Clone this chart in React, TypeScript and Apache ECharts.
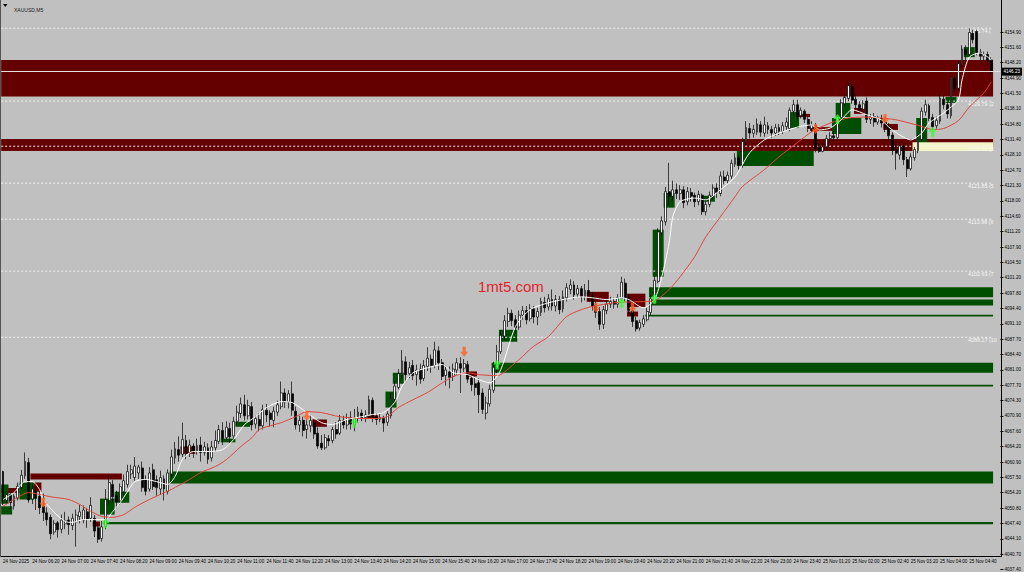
import React, { useEffect, useRef } from "react";
import * as echarts from "echarts";

const FONT = "'Liberation Sans', Arial, sans-serif";
const symbolName = "XAUUSD,M5";
const watermark = "1mt5.com";
const currentPrice = 4146.23;

// x tick labels (one every 8 bars)
const tickLabels = [
  "24 Nov 2025", "24 Nov 06:20", "24 Nov 07:00", "24 Nov 07:40", "24 Nov 08:20", "24 Nov 09:00",
  "24 Nov 09:40", "24 Nov 10:20", "24 Nov 11:00", "24 Nov 11:40", "24 Nov 12:20", "24 Nov 13:00",
  "24 Nov 13:40", "24 Nov 14:20", "24 Nov 15:00", "24 Nov 15:40", "24 Nov 16:20", "24 Nov 17:00",
  "24 Nov 17:40", "24 Nov 18:20", "24 Nov 19:00", "24 Nov 19:40", "24 Nov 20:20", "24 Nov 21:00",
  "24 Nov 21:40", "24 Nov 22:20", "24 Nov 23:00", "24 Nov 23:40", "25 Nov 01:20", "25 Nov 02:00",
  "25 Nov 02:40", "25 Nov 03:20", "25 Nov 04:00", "25 Nov 04:40",
];

// right price scale labels, bottom -> top
const priceLabels = [
  "4037.40", "4040.70", "4044.10", "4047.40", "4050.80", "4054.20", "4057.50", "4060.90", "4064.20",
  "4067.60", "4070.90", "4074.30", "4077.70", "4081.00", "4084.40", "4087.70", "4091.10", "4094.40",
  "4097.80", "4101.20", "4104.50", "4107.90", "4111.20", "4114.60", "4118.00", "4121.30", "4124.70",
  "4128.10", "4131.40", "4134.80", "4138.10", "4141.50", "4144.90", "4148.20", "4151.60", "4154.90",
];
const priceMin = 4037.4;
const priceMax = 4154.9;

// [open, close, low, high]
const candles = [
  [4058.8,4052.7,4051.5,4059.0],[4052.5,4053.8,4051.8,4054.6],[4053.8,4052.0,4050.6,4054.5],[4051.3,4053.4,4050.5,4054.0],
  [4053.0,4055.6,4052.5,4056.4],[4055.3,4058.0,4054.8,4059.2],[4057.9,4061.0,4057.2,4063.0],[4060.8,4052.6,4052.0,4061.8],
  [4052.8,4055.0,4051.7,4056.0],[4054.5,4052.9,4050.4,4055.5],[4053.4,4050.9,4049.5,4054.5],[4051.2,4049.8,4048.0,4054.0],
  [4049.8,4048.3,4047.0,4051.0],[4048.8,4045.2,4044.0,4049.4],[4045.6,4047.5,4045.0,4048.2],[4047.6,4046.1,4044.4,4048.0],
  [4046.2,4048.2,4045.3,4049.4],[4047.4,4048.0,4046.2,4050.0],[4048.2,4047.2,4045.0,4049.0],[4047.0,4048.6,4046.0,4049.6],
  [4047.8,4049.3,4042.4,4050.5],[4049.0,4050.0,4047.5,4051.5],[4048.2,4050.4,4047.5,4051.4],[4050.0,4048.4,4046.5,4050.9],
  [4048.6,4051.4,4047.8,4053.2],[4048.6,4045.8,4044.5,4049.3],[4046.5,4044.0,4043.2,4047.4],[4044.2,4046.7,4043.5,4048.0],
  [4046.8,4052.7,4046.2,4055.0],[4052.5,4056.4,4051.6,4058.0],[4056.0,4053.3,4052.0,4057.0],[4053.5,4052.2,4050.8,4054.6],
  [4052.4,4055.5,4051.6,4056.2],[4054.4,4056.8,4053.8,4058.2],[4056.0,4058.8,4055.3,4060.3],[4058.3,4059.2,4057.2,4060.3],
  [4057.5,4060.0,4056.8,4062.0],[4058.5,4059.8,4057.2,4060.3],[4059.6,4055.3,4054.4,4061.0],[4057.1,4054.5,4053.6,4058.0],
  [4055.0,4058.5,4054.4,4059.8],[4059.2,4055.5,4054.8,4060.5],[4057.0,4055.3,4053.5,4058.0],[4055.0,4057.5,4053.7,4059.0],
  [4057.2,4055.0,4052.5,4058.0],[4054.5,4058.5,4053.8,4059.3],[4058.3,4062.0,4057.5,4063.6],[4061.8,4063.8,4060.5,4065.3],
  [4063.6,4062.4,4061.0,4066.5],[4062.6,4065.8,4062.0,4069.5],[4065.6,4062.8,4061.5,4066.8],[4063.0,4064.6,4062.0,4065.8],
  [4064.4,4063.2,4061.8,4065.0],[4063.2,4064.5,4062.5,4066.0],[4064.6,4063.0,4061.0,4066.4],[4063.0,4064.2,4062.3,4065.3],
  [4064.0,4061.5,4060.5,4065.0],[4061.8,4064.2,4061.0,4065.5],[4064.0,4065.6,4063.2,4067.8],[4065.4,4068.0,4064.8,4069.0],
  [4067.8,4066.0,4064.6,4069.6],[4066.2,4068.5,4065.6,4069.8],[4068.2,4066.4,4065.0,4069.5],[4066.6,4069.8,4066.0,4070.8],
  [4069.8,4071.8,4068.9,4073.2],[4071.5,4073.6,4070.5,4075.0],[4073.4,4071.0,4070.0,4075.6],[4071.0,4073.2,4070.2,4074.5],
  [4073.0,4069.0,4067.8,4074.0],[4069.2,4070.4,4068.2,4071.0],[4070.2,4068.8,4067.6,4071.6],[4068.8,4072.4,4068.0,4073.4],
  [4072.2,4071.2,4069.6,4073.6],[4071.6,4070.2,4068.6,4072.2],[4070.0,4072.0,4068.5,4073.0],[4071.8,4073.4,4071.0,4074.3],
  [4073.0,4076.0,4072.4,4078.5],[4076.0,4074.0,4072.7,4077.0],[4074.0,4075.8,4072.6,4076.6],[4075.8,4072.2,4071.0,4078.5],
  [4072.0,4069.0,4068.0,4073.0],[4069.0,4070.0,4067.5,4071.0],[4070.0,4067.8,4066.5,4070.8],[4068.0,4069.0,4066.0,4070.2],
  [4068.8,4070.0,4067.4,4071.2],[4069.5,4067.0,4066.0,4070.2],[4067.2,4064.4,4063.8,4068.5],[4065.0,4064.0,4063.5,4066.8],
  [4064.0,4066.2,4063.6,4067.0],[4066.0,4065.5,4064.4,4066.8],[4065.6,4068.0,4065.0,4068.6],[4068.0,4067.0,4066.0,4069.6],
  [4067.2,4070.0,4066.8,4071.2],[4070.0,4069.0,4068.2,4071.0],[4069.0,4070.6,4068.0,4071.5],[4070.6,4069.2,4068.0,4072.0],
  [4069.0,4070.6,4067.6,4072.5],[4070.4,4071.8,4069.5,4073.0],[4071.6,4070.6,4069.8,4072.4],[4070.6,4071.2,4069.6,4072.2],
  [4071.0,4074.5,4070.6,4075.4],[4074.4,4070.8,4069.6,4075.0],[4070.8,4070.2,4069.0,4071.6],[4070.2,4070.6,4069.6,4071.4],
  [4070.4,4069.4,4067.5,4071.0],[4069.6,4071.4,4068.8,4072.0],[4071.0,4074.8,4070.4,4076.0],[4074.6,4077.5,4073.8,4078.6],
  [4077.2,4080.2,4076.8,4081.2],[4079.8,4083.0,4079.0,4085.4],[4082.8,4080.0,4078.4,4084.0],[4080.2,4081.5,4079.2,4082.8],
  [4082.0,4079.8,4078.8,4083.2],[4080.0,4081.0,4077.6,4082.2],[4081.2,4079.0,4078.0,4082.4],[4079.2,4082.0,4078.6,4083.2],
  [4081.8,4083.6,4080.8,4086.0],[4083.4,4082.0,4080.4,4084.4],[4082.0,4085.4,4081.4,4087.2],[4085.2,4082.6,4081.0,4086.2],
  [4082.6,4079.6,4078.8,4083.4],[4079.8,4081.0,4077.6,4082.0],[4080.6,4079.4,4077.0,4081.8],[4079.6,4081.2,4078.6,4082.4],
  [4081.0,4082.6,4080.0,4083.6],[4082.4,4081.4,4076.0,4083.8],[4081.4,4082.4,4080.6,4083.4],[4082.2,4079.0,4078.2,4083.0],
  [4079.2,4077.8,4076.4,4080.4],[4078.0,4077.2,4075.4,4079.6],[4078.2,4075.6,4071.6,4079.2],[4076.0,4072.4,4071.4,4077.0],
  [4071.6,4073.8,4070.2,4075.2],[4073.6,4076.8,4073.0,4077.8],[4076.6,4081.6,4076.0,4082.8],[4081.4,4085.0,4080.4,4086.5],
  [4085.0,4088.6,4084.5,4089.6],[4088.4,4091.8,4087.6,4093.0],[4091.6,4093.4,4090.4,4094.6],[4093.4,4091.8,4090.6,4094.2],
  [4092.0,4090.2,4089.0,4093.0],[4090.4,4093.0,4089.8,4094.0],[4093.0,4094.0,4092.0,4095.0],[4094.0,4092.0,4091.0,4095.0],
  [4092.2,4094.4,4091.6,4095.4],[4094.4,4092.6,4091.2,4095.0],[4092.6,4093.8,4090.8,4094.6],[4093.6,4096.0,4092.8,4096.8],
  [4095.8,4094.6,4093.6,4097.0],[4094.8,4096.6,4094.0,4097.6],[4096.4,4095.0,4094.0,4098.6],[4095.0,4096.4,4093.8,4097.4],
  [4096.4,4094.2,4093.2,4097.2],[4094.4,4097.0,4093.6,4098.4],[4096.8,4099.0,4096.0,4100.0],[4098.6,4099.6,4097.6,4100.8],
  [4099.6,4097.4,4096.4,4100.4],[4097.6,4098.8,4096.8,4099.6],[4098.8,4097.0,4095.8,4099.4],[4097.0,4098.4,4096.2,4099.8],
  [4098.4,4097.4,4096.2,4100.7],[4097.2,4095.0,4094.0,4098.0],[4095.2,4093.6,4092.4,4096.2],[4093.8,4091.0,4089.8,4094.8],
  [4091.0,4094.2,4090.0,4095.0],[4094.0,4095.4,4093.2,4096.2],[4095.4,4096.0,4094.6,4097.0],[4096.0,4095.4,4094.4,4096.8],
  [4095.4,4096.8,4094.6,4097.6],[4096.6,4100.2,4096.0,4101.4],[4100.0,4096.8,4096.0,4101.0],[4096.8,4094.0,4093.0,4097.6],
  [4094.0,4091.6,4090.4,4094.6],[4091.8,4090.0,4089.4,4092.6],[4090.2,4091.4,4089.6,4092.0],[4091.0,4092.2,4090.4,4093.0],
  [4092.0,4093.8,4091.6,4094.6],[4093.6,4096.6,4093.0,4097.4],[4096.4,4100.6,4096.0,4101.6],[4100.4,4111.2,4100.0,4112.0],
  [4111.0,4113.6,4110.4,4114.6],[4113.4,4120.0,4112.6,4121.0],[4120.0,4119.0,4117.0,4126.3],[4119.0,4120.4,4118.0,4122.4],
  [4120.4,4119.6,4118.4,4121.8],[4119.6,4120.4,4118.2,4121.4],[4120.4,4117.6,4116.4,4121.2],[4117.8,4120.0,4117.0,4121.0],
  [4119.8,4119.0,4117.8,4120.8],[4119.2,4117.8,4116.6,4119.8],[4117.8,4119.4,4117.0,4120.2],[4119.2,4115.6,4114.9,4119.6],
  [4115.6,4117.2,4114.8,4118.2],[4117.2,4119.2,4116.6,4120.0],[4119.0,4120.8,4118.4,4121.6],[4120.8,4119.8,4118.6,4121.8],
  [4119.6,4123.4,4119.0,4124.4],[4123.2,4122.4,4121.6,4124.6],[4122.4,4123.6,4121.8,4124.4],[4123.4,4126.2,4122.8,4127.0],
  [4126.0,4127.4,4125.4,4128.4],[4127.4,4125.8,4124.8,4128.0],[4125.8,4131.0,4125.2,4131.8],[4130.8,4134.0,4130.2,4135.4],
  [4133.8,4132.8,4131.6,4135.0],[4132.8,4133.6,4131.8,4134.6],[4133.0,4134.8,4132.4,4136.0],[4134.6,4133.0,4132.0,4135.4],
  [4132.8,4134.6,4132.0,4136.4],[4134.4,4133.6,4132.6,4135.2],[4133.6,4132.8,4131.8,4134.4],[4132.8,4134.0,4132.2,4134.8],
  [4134.0,4133.2,4132.4,4134.8],[4133.2,4134.4,4132.6,4135.2],[4134.2,4135.2,4133.4,4136.2],[4133.8,4137.8,4133.2,4138.4],
  [4137.6,4139.0,4136.8,4140.1],[4139.0,4136.4,4135.6,4140.1],[4136.6,4137.8,4136.0,4138.4],[4137.6,4135.8,4135.0,4138.0],
  [4135.8,4133.8,4133.0,4136.4],[4133.8,4134.6,4133.0,4135.4],[4134.4,4129.4,4128.6,4135.0],[4129.6,4128.8,4128.5,4130.6],
  [4128.8,4129.8,4128.6,4130.6],[4129.8,4131.6,4129.2,4132.4],[4131.6,4132.2,4130.8,4133.0],[4132.2,4131.8,4131.0,4133.2],
  [4131.8,4136.4,4131.2,4137.0],[4136.2,4139.4,4135.6,4140.2],[4139.2,4140.6,4138.6,4141.4],[4140.4,4143.2,4139.8,4144.0],
  [4143.0,4140.0,4139.2,4143.8],[4140.2,4139.0,4137.8,4141.4],[4139.0,4138.0,4137.0,4139.8],[4138.0,4139.2,4137.4,4140.0],
  [4139.8,4135.8,4135.0,4140.6],[4135.8,4136.4,4134.8,4137.0],[4136.4,4135.2,4134.2,4137.2],[4135.2,4136.0,4134.6,4136.6],
  [4136.0,4135.0,4134.0,4136.8],[4135.2,4134.0,4133.0,4136.0],[4134.2,4132.2,4131.0,4135.0],[4132.4,4129.0,4128.0,4133.0],
  [4129.2,4128.4,4124.8,4130.2],[4128.0,4130.0,4127.0,4131.0],[4130.0,4127.0,4125.8,4130.6],[4127.0,4125.0,4123.2,4127.6],
  [4125.0,4127.6,4124.6,4128.4],[4127.4,4129.2,4126.8,4129.8],[4129.0,4131.6,4128.4,4132.4],[4131.4,4137.6,4131.0,4138.4],
  [4137.4,4139.0,4136.6,4140.1],[4138.8,4136.0,4135.4,4139.2],[4136.2,4134.2,4133.4,4137.0],[4134.4,4135.6,4133.8,4136.4],
  [4135.4,4140.4,4134.8,4141.1],[4140.2,4139.0,4138.0,4141.0],[4139.0,4137.0,4136.0,4139.6],[4136.6,4145.0,4136.0,4145.3],
  [4144.8,4142.6,4141.6,4145.4],[4142.6,4148.0,4142.0,4148.6],[4147.8,4151.2,4147.2,4152.0],[4151.0,4150.0,4148.4,4152.0],
  [4150.0,4154.8,4149.6,4155.7],[4154.6,4153.2,4152.4,4155.4],[4155.0,4150.4,4149.8,4155.4],[4150.4,4149.6,4148.4,4151.2],
  [4149.6,4150.0,4148.6,4150.6],[4150.0,4148.6,4147.6,4150.6],[4148.8,4146.2,4145.6,4149.4],
];

// moving averages: [barIndex, price]
const slowMA = [
  [0,4051.2],[3,4052.7],[7,4054.2],[10,4053.8],[13,4053.3],[18,4052.7],[21,4051.6],[24,4050.1],[27,4049.0],[30,4048.8],
  [33,4049.4],[36,4051.0],[40,4052.7],[43,4053.8],[46,4054.9],[51,4057.1],[54,4058.6],[58,4059.9],[61,4061.4],[65,4064.3],
  [68,4066.2],[70,4068.0],[76,4069.5],[80,4070.8],[83,4071.9],[87,4071.7],[92,4070.8],[98,4070.4],[101,4070.4],[105,4070.8],
  [108,4072.8],[112,4074.5],[116,4076.1],[120,4078.2],[123,4079.6],[127,4080.4],[130,4080.0],[134,4079.8],[136,4080.0],
  [141,4083.3],[145,4086.2],[149,4088.3],[154,4092.7],[158,4094.2],[161,4094.9],[167,4095.7],[172,4095.9],[178,4096.2],
  [182,4098.6],[185,4101.4],[189,4105.8],[192,4110.1],[196,4114.5],[200,4118.9],[202,4121.1],[208,4124.8],[212,4127.6],
  [217,4130.7],[221,4133.1],[226,4135.0],[231,4136.1],[235,4136.3],[240,4136.1],[244,4135.7],[250,4134.5],[254,4133.6],
  [257,4133.8],[261,4135.5],[264,4138.5],[268,4141.6],[270,4144.0],
];
const fastMA = [
  [0,4052.7],[3,4054.2],[6,4056.6],[8,4056.6],[10,4054.9],[11,4052.7],[14,4049.9],[17,4047.9],[19,4047.7],[22,4048.3],
  [25,4048.3],[28,4048.3],[30,4050.1],[32,4052.0],[34,4054.4],[36,4056.6],[39,4057.1],[42,4056.6],[45,4056.0],[47,4057.7],
  [49,4061.4],[52,4063.2],[56,4063.2],[60,4063.6],[63,4065.8],[66,4069.1],[69,4070.8],[72,4072.8],[76,4074.1],[79,4073.9],
  [83,4071.7],[87,4069.5],[90,4069.1],[94,4070.2],[98,4070.8],[101,4071.3],[104,4071.7],[107,4073.9],[109,4077.4],
  [112,4080.4],[116,4081.5],[120,4082.2],[123,4080.4],[127,4080.0],[130,4078.9],[133,4078.2],[136,4081.1],[140,4090.5],
  [144,4094.2],[149,4095.7],[153,4096.4],[158,4097.0],[161,4096.8],[165,4096.4],[169,4096.8],[171,4096.4],[175,4094.6],
  [178,4096.4],[180,4101.4],[182,4108.8],[183,4114.5],[185,4117.8],[189,4118.6],[192,4118.2],[196,4120.4],[200,4123.2],
  [204,4128.5],[208,4131.3],[212,4132.8],[217,4134.1],[221,4134.6],[223,4133.5],[226,4133.9],[229,4135.7],[232,4137.9],
  [236,4136.8],[240,4135.7],[242,4134.1],[245,4132.4],[248,4131.3],[251,4132.8],[253,4135.0],[257,4137.2],[261,4140.1],
  [262,4144.4],[264,4149.4],[267,4150.3],[270,4148.8],
];

// zones: [fromBar, toBar, topPrice, bottomPrice]
const redZones = [
  [0,270,4148.8,4140.8],[0,270,4131.5,4128.9],[8,32,4058.4,4057.1],
  [0,4,4055.2,4054.1],[8,10,4056.4,4054.4],[25,26,4047.9,4046.8],[49,52,4064.3,4062.7],
  [85,88,4070.2,4068.6],[100,102,4071.1,4070.4],[127,129,4080.7,4079.6],[160,165,4098.1,4095.9],
  [171,175,4097.7,4094.8],[171,173,4093.8,4092.7],[218,220,4137.0,4136.3],[221,227,4134.1,4133.3],
  [233,235,4138.3,4137.0],[241,244,4134.8,4133.5],
];
const greenZones = [
  [177,270,4099.1,4096.9],[177,270,4096.4,4095.1],[176,270,4093.1,4092.7],
  [134,270,4082.6,4080.4],[134,270,4077.8,4077.4],[46,270,4058.8,4056.2],[28,270,4047.8,4047.3],
  [0,1,4056.0,4051.8],[0,2,4051.2,4049.4],[5,8,4056.4,4052.7],[27,30,4052.9,4049.4],[31,34,4054.4,4052.0],
  [60,63,4066.0,4065.2],[64,67,4069.7,4068.6],[105,107,4076.3,4072.8],[107,109,4080.4,4078.0],
  [136,140,4089.8,4087.2],[178,180,4111.7,4101.4],[181,183,4119.7,4116.5],[192,194,4119.1,4117.8],
  [201,221,4128.9,4125.6],[215,217,4137.4,4133.9],[227,234,4136.1,4132.6],[228,231,4139.4,4136.3],
  [250,252,4136.1,4129.8],[258,260,4140.7,4139.4],[263,265,4151.6,4149.4],
];
const yellowZones = [[249,270,4130.8,4128.9]];

// horizontal levels
const levelPrices = [4155.74, 4139.79, 4129.93, 4121.85, 4113.98, 4102.63, 4088.17];
const levelTags = ["4155.74 (", "4139.79 (2", "4129.93 (3", "4121.85 (5", "4113.98 (6", "4102.63 (7", "4088.17 (10"];

// signal arrows: [barIndex, price]
const sellSignals = [[11,4052.0],[83,4071.0],[126,4085.0],[162,4094.6],[172,4094.6],[222,4133.7],[241,4135.9]];
const buySignals = [[28,4047.5],[96,4069.5],[135,4082.2],[169,4095.7],[178,4096.6],[228,4135.9],[254,4133.1]];

const TOTAL_BARS = 273;
const barTimes: string[] = [];
{
  let day = 24;
  let m = 5 * 60 + 40;
  for (let i = 0; i < TOTAL_BARS; i++) {
    const hh = String(Math.floor(m / 60)).padStart(2, "0");
    const mm = String(m % 60).padStart(2, "0");
    barTimes.push(`${day} Nov ${hh}:${mm}`);
    m += 5;
    if (m >= 24 * 60) { day = 25; m = 60; }
  }
}

function zoneSeries(name: string, rects: number[][], color: string, z: number) {
  return {
    type: "custom",
    name,
    z,
    silent: true,
    data: rects,
    encode: { x: [0, 1], y: [2, 3] },
    renderItem: (params: any, api: any) => {
      const from = api.value(0);
      const to = api.value(1);
      const top = api.value(2);
      const bottom = api.value(3);
      const bw = api.size([1, 0])[0];
      const a = api.coord([from, top]);
      const b = api.coord([to, bottom]);
      const x1 = a[0] - bw / 2;
      const x2 = b[0] + bw / 2;
      return {
        type: "rect",
        shape: { x: x1, y: a[1], width: x2 - x1, height: Math.max(b[1] - a[1], 1) },
        style: { fill: color },
      };
    },
  };
}

const downArrow = "path://M3,0L7,0L7,5L10,5L5,10L0,5L3,5Z";
const upArrow = "path://M5,0L10,5L7,5L7,10L3,10L3,5L0,5Z";

function buildOption(): any {
  const lastBar = candles.length - 1;
  const showTick = (index: number) => index % 8 === 0 && index / 8 < tickLabels.length;
  return {
    animation: false,
    backgroundColor: "#c0c0c0",
    textStyle: { fontFamily: FONT },
    title: {
      text: symbolName,
      left: 9,
      top: 2,
      textStyle: { fontSize: 5, fontWeight: "normal", color: "#1a1a1a", fontFamily: FONT },
    },
    grid: { left: 0, right: 23, top: 32, bottom: 2, containLabel: false },
    xAxis: {
      type: "category",
      data: barTimes,
      boundaryGap: true,
      offset: -13,
      axisLine: { lineStyle: { color: "#000", width: 1 } },
      axisTick: { interval: showTick, alignWithLabel: true, length: 3, lineStyle: { color: "#000" } },
      axisLabel: {
        interval: showTick,
        formatter: (_v: string, index: number) => tickLabels[index / 8] ?? "",
        fontSize: 4.6,
        color: "#000",
        align: "left",
        margin: 2,
        fontFamily: FONT,
      },
      splitLine: { show: false },
    },
    yAxis: [
      { type: "value", min: priceMin, max: priceMax, show: false, scale: true, position: "left" },
      {
        type: "category",
        data: priceLabels,
        boundaryGap: false,
        position: "right",
        axisLine: { show: false },
        axisTick: { show: true, interval: 0, length: 3, lineStyle: { color: "#000" } },
        axisLabel: { interval: 0, fontSize: 4.6, color: "#000", margin: 4, fontFamily: FONT },
        splitLine: { show: false },
      },
    ],
    graphic: [
      { type: "line", shape: { x1: 1001.5, y1: 0, x2: 1001.5, y2: 557 }, style: { stroke: "#000", lineWidth: 1 }, z: 20 },
      { type: "line", shape: { x1: 0.5, y1: 0, x2: 0.5, y2: 557 }, style: { stroke: "#555", lineWidth: 1 }, z: 20 },
      { type: "polygon", shape: { points: [[3, 4], [7.5, 4], [5.25, 7]] }, style: { fill: "#000" }, z: 20 },
      {
        type: "text", left: 478, top: 279, z: 20,
        style: { text: watermark, fill: "#e3232b", fontSize: 15, fontFamily: FONT },
      },
    ],
    series: [
      zoneSeries("red zones", redZones, "#640000", 1),
      zoneSeries("green zones", greenZones, "#004f00", 1),
      zoneSeries("yellow zone", yellowZones, "#f3f5c8", 1),
      {
        type: "custom",
        name: "levels",
        z: 2,
        silent: true,
        data: levelPrices.map((p) => [lastBar, p]),
        encode: { x: 0, y: 1 },
        renderItem: (params: any, api: any) => {
          const pt = api.coord([api.value(0), api.value(1)]);
          const bw = api.size([1, 0])[0];
          const cs = params.coordSys;
          const xEnd = pt[0] + bw / 2;
          return {
            type: "group",
            children: [
              {
                type: "line",
                shape: { x1: cs.x, y1: pt[1], x2: xEnd, y2: pt[1] },
                style: { stroke: "#f2f2f2", lineWidth: 1, lineDash: [2, 2] },
              },
              {
                type: "text",
                style: {
                  text: levelTags[params.dataIndex],
                  x: xEnd - 25,
                  y: pt[1] + 3,
                  fill: "#f6f6f6",
                  fontSize: 5.4,
                  fontFamily: FONT,
                  verticalAlign: "middle",
                },
              },
            ],
          };
        },
      },
      {
        type: "candlestick",
        name: symbolName,
        z: 4,
        clip: false,
        barWidth: 2.4,
        data: candles,
        itemStyle: {
          color: "#ffffff",
          color0: "#000000",
          borderColor: "#000000",
          borderColor0: "#000000",
          borderWidth: 0.7,
        },
        markLine: {
          silent: true,
          symbol: ["none", "none"],
          animation: false,
          lineStyle: { color: "#e6dcdc", width: 1, type: "solid" },
          label: {
            position: "end",
            formatter: currentPrice.toFixed(2),
            backgroundColor: "#000",
            color: "#fff",
            fontSize: 4.6,
            padding: [1.5, 2],
            distance: 1,
            fontFamily: FONT,
          },
          data: [{ yAxis: currentPrice }],
        },
      },
      {
        type: "line",
        name: "slow MA",
        z: 5,
        clip: false,
        data: slowMA,
        showSymbol: false,
        smooth: 0.25,
        lineStyle: { color: "#e0453a", width: 1 },
      },
      {
        type: "line",
        name: "fast MA",
        z: 5,
        clip: false,
        data: fastMA,
        showSymbol: false,
        smooth: 0.25,
        lineStyle: { color: "#ffffff", width: 1 },
      },
      {
        type: "scatter",
        name: "sell",
        z: 6,
        clip: false,
        data: sellSignals,
        symbol: downArrow,
        symbolSize: [8, 10],
        itemStyle: { color: "#ff5e1e" },
      },
      {
        type: "scatter",
        name: "buy",
        z: 6,
        clip: false,
        data: buySignals,
        symbol: upArrow,
        symbolSize: [8, 10],
        itemStyle: { color: "#33ff33" },
      },
    ],
  };
}

export default function App() {
  const ref = useRef<HTMLDivElement>(null);
  useEffect(() => {
    if (!ref.current) return;
    const chart = echarts.init(ref.current, null, { renderer: "svg" });
    chart.setOption(buildOption());
    return () => chart.dispose();
  }, []);
  return (
    <div
      ref={ref}
      style={{ position: "fixed", left: 0, top: 0, width: 1024, height: 572 }}
    />
  );
}
